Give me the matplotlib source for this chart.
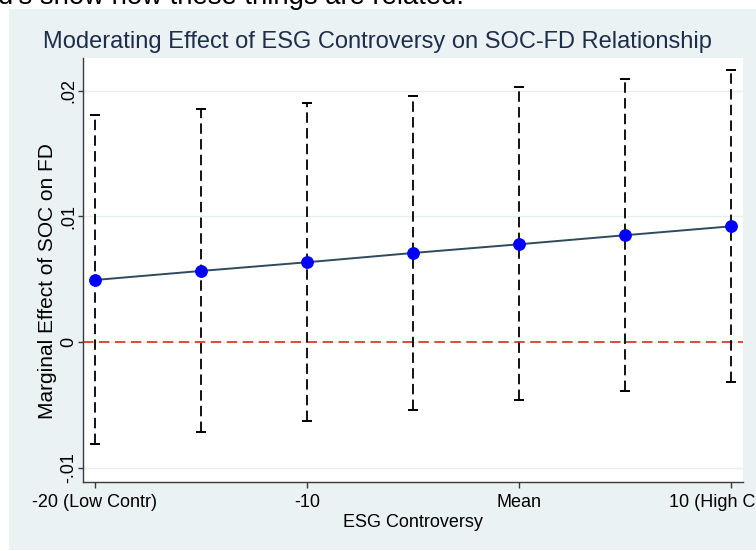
import matplotlib
matplotlib.use("Agg")
import matplotlib.pyplot as plt
from matplotlib.patches import Rectangle

# ---- data ----
x_vals = [-20, -15, -10, -5, 0, 5, 10]
marginal_effect = [0.00493, 0.00565, 0.00634, 0.00708, 0.00777, 0.00849, 0.00920]
ci_low = [-0.00811, -0.00714, -0.00628, -0.00543, -0.00464, -0.00390, -0.00321]
ci_high = [0.01806, 0.01851, 0.01899, 0.01959, 0.02026, 0.02090, 0.02164]
x_tick_pos = [-20, -10, 0, 10]
x_tick_labels = ['-20 (Low Contr)', '-10', 'Mean', '10 (High Contr)']
y_tick_pos = [-0.01, 0.0, 0.01, 0.02]
y_tick_labels = ['-.01', '0', '.01', '.02']
title = 'Moderating Effect of ESG Controversy on SOC-FD Relationship'
xlabel = 'ESG Controversy'
ylabel = 'Marginal Effect of SOC on FD'
top_text = "d's show how these things are related."

plt.rcParams['font.family'] = ['Liberation Sans', 'DejaVu Sans']
plt.rcParams['lines.scale_dashes'] = False

W, H = 756, 551
fig = plt.figure(figsize=(W / 100, H / 100), dpi=100)
fig.patch.set_facecolor('white')

# Stata graph region background
bg = Rectangle((9 / W, 1 - 550 / H), (W - 9) / W, (550 - 9) / H,
               transform=fig.transFigure, facecolor='#EAF2F3', edgecolor='none', zorder=-10)
fig.patches.append(bg)

# clipped text from screenshot above
fig.text(-2 / W, 1 - 4 / H, top_text, fontsize=19.8, color='black', va='baseline', ha='left')

left, right, top, bottom = 83, 743, 58, 482
ax = fig.add_axes([left / W, 1 - bottom / H, (right - left) / W, (bottom - top) / H])
ax.set_zorder(1)
ax.set_facecolor('white')

ax.set_xlim(-20.566, 10.566)
ax.set_ylim(-0.01114, 0.02259)

for yt in y_tick_pos:
    ax.axhline(yt, color='#E6EEF0', lw=1.0, zorder=1)

ax.axhline(0, color='#DC3C32', lw=1.3, linestyle=(0, (7.5, 4)), zorder=2)

ax.vlines(x_vals, ci_low, ci_high, colors='black', lw=1.3, linestyles=[(0, (7.5, 3.8))], zorder=3)
ax.plot(x_vals, ci_low, linestyle='none', marker='_', markersize=6.5, mew=1.4, color='black', zorder=3)
ax.plot(x_vals, ci_high, linestyle='none', marker='_', markersize=6.5, mew=1.4, color='black', zorder=3)

ax.plot(x_vals, marginal_effect, color='#2E4A5E', lw=1.4, zorder=4)
ax.plot(x_vals, marginal_effect, linestyle='none', marker='o', markersize=8.2,
        color='#0000FF', mec='#0000FF', zorder=5)

for s in ['top', 'right']:
    ax.spines[s].set_visible(False)
for s in ['left', 'bottom']:
    ax.spines[s].set_color('#3A3A3A')
    ax.spines[s].set_linewidth(1.0)

ax.set_xticks(x_tick_pos)
ax.set_xticklabels(x_tick_labels, fontsize=13, color='black')
ax.set_yticks(y_tick_pos)
ax.set_yticklabels(y_tick_labels, fontsize=13, color='black', rotation=90, va='center')
ax.tick_params(axis='x', direction='out', length=4.3, width=1.0, color='#3A3A3A', pad=4)
ax.tick_params(axis='y', direction='out', length=3.8, width=1.0, color='#3A3A3A', pad=0)

ax.set_xlabel(xlabel, fontsize=13, color='black')
ax.xaxis.set_label_coords(0.5, (482 - 514) / 424)
ax.set_ylabel(ylabel, fontsize=15.0, color='black')
ax.yaxis.set_label_coords((57 - 83) / 660, (482 - 281) / 424)

fig.text(377.5 / W, 1 - 48 / H, title, fontsize=17.0, color='#1E2D4B', ha='center', va='baseline')

fig.savefig('out.png', dpi=100, facecolor='white')
